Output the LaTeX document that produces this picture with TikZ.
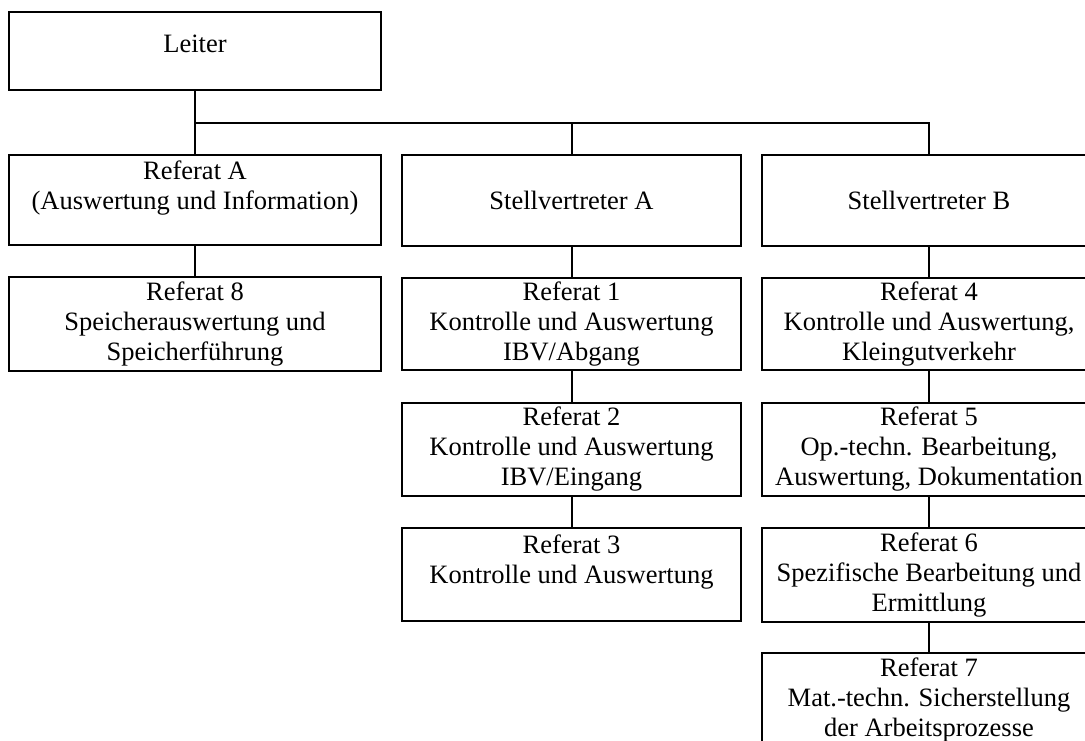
\documentclass[tikz,border=0pt]{standalone}
\usepackage{fontspec}
\setmainfont{Liberation Serif}

\begin{document}
\begin{tikzpicture}[x=1pt, y=-1pt,
  box/.style={draw, line width=2pt, align=center, inner sep=0pt,
    font=\fontsize{26.5}{30}\selectfont},
  colA/.style={minimum width=372pt},
  colB/.style={minimum width=339pt},
  colC/.style={minimum width=334pt},
  conn/.style={line width=2pt}]
\useasboundingbox (0,0) rectangle (1085,741);
\node[box, colA, minimum height=78pt, text depth=14pt] (leiter) at (195,51) {Leiter};
\node[box, colA, minimum height=90pt] (refA) at (195,200) {Referat A\\(Auswertung und Information)\\\mbox{}};
\node[box, colB, minimum height=91pt] (stvA) at (571.5,200.5) {Stellvertreter A};
\node[box, colC, minimum height=91pt] (stvB) at (929,200.5) {Stellvertreter B};
\node[box, colA, minimum height=94pt] (ref8) at (195,324) {Referat 8\\Speicherauswertung und\\Speicherführung};
\node[box, colB, minimum height=92pt] (ref1) at (571.5,324) {Referat 1\\Kontrolle und Auswertung\\IBV/Abgang};
\node[box, colB, minimum height=93pt] (ref2) at (571.5,449.5) {Referat 2\\Kontrolle und Auswertung\\IBV/Eingang};
\node[box, colB, minimum height=93pt] (ref3) at (571.5,574.5) {Referat 3\\Kontrolle und Auswertung\\\mbox{}};
\node[box, colC, minimum height=92pt] (ref4) at (929,324) {Referat 4\\Kontrolle und Auswertung,\\Kleingutverkehr};
\node[box, colC, minimum height=93pt] (ref5) at (929,449.5) {Referat 5\\Op.-techn. Bearbeitung,\\Auswertung, Dokumentation};
\node[box, colC, minimum height=94pt] (ref6) at (929,575) {Referat 6\\Spezifische Bearbeitung und\\Ermittlung};
\node[box, colC, minimum height=93pt] (ref7) at (929,699.5) {Referat 7\\Mat.-techn. Sicherstellung\\der Arbeitsprozesse};
\coordinate (bus) at (195,123);
\draw[conn] (leiter) -- (refA);
\draw[conn] (bus) -| (stvA);
\draw[conn] (bus) -| (stvB);
\draw[conn] (refA) -- (ref8);
\draw[conn] (stvA) -- (ref1);
\draw[conn] (ref1) -- (ref2);
\draw[conn] (ref2) -- (ref3);
\draw[conn] (stvB) -- (ref4);
\draw[conn] (ref4) -- (ref5);
\draw[conn] (ref5) -- (ref6);
\draw[conn] (ref6) -- (ref7);
\end{tikzpicture}
\end{document}
